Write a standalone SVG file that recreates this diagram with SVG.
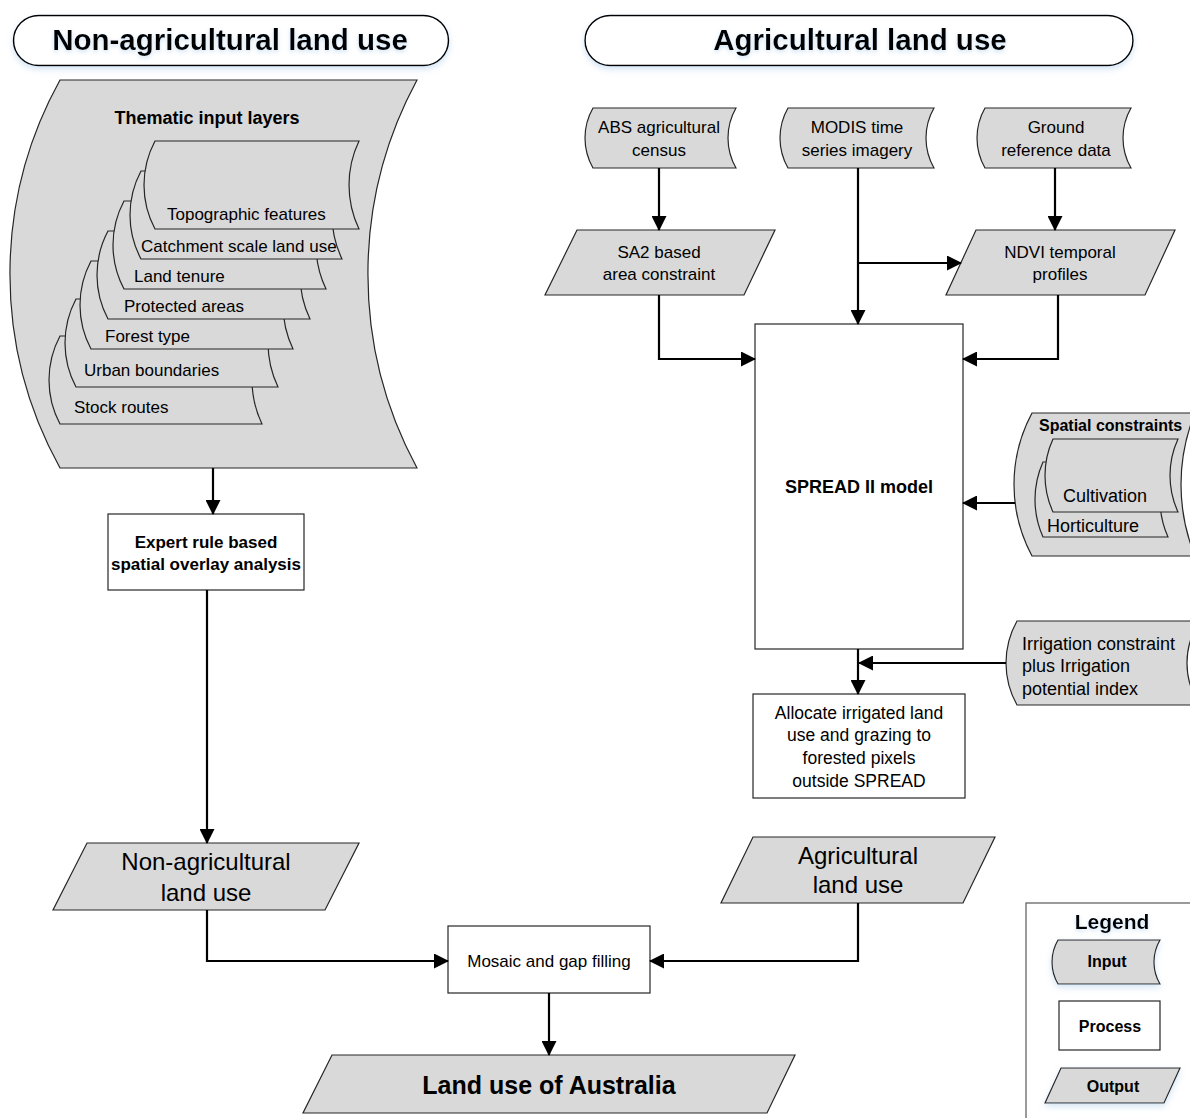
<svg xmlns="http://www.w3.org/2000/svg" width="1190" height="1118" viewBox="0 0 1190 1118">
<style>
text{font-family:"Liberation Sans",Arial,sans-serif;fill:#000}
.b{font-weight:bold}
.hdr{font-size:29.5px;font-weight:bold;text-anchor:middle}
.c{text-anchor:middle}
.t17{font-size:17px}
.t18{font-size:18px}
.t24{font-size:24px}
.in{fill:#d9d9d9;stroke:#262626;stroke-width:1.2}
.pr{fill:#fff;stroke:#262626;stroke-width:1.2}
.pill{fill:#fff;stroke:#000;stroke-width:1.5}
.cn{fill:none;stroke:#000;stroke-width:2.2;marker-end:url(#ah)}
.ln{fill:none;stroke:#000;stroke-width:2.2}
</style>
<defs>
<marker id="ah" markerUnits="userSpaceOnUse" markerWidth="15" markerHeight="15" refX="14" refY="7.5" orient="auto">
<path d="M0,0 L15,7.5 L0,15 Z" fill="#000"/>
</marker>
<filter id="soft" x="-10%" y="-30%" width="120%" height="180%">
<feGaussianBlur in="SourceAlpha" stdDeviation="3"/>
<feOffset dy="3" result="b"/>
<feFlood flood-color="#9dc3e6" flood-opacity="0.45"/>
<feComposite in2="b" operator="in"/>
<feMerge><feMergeNode/><feMergeNode in="SourceGraphic"/></feMerge>
</filter>
<filter id="tglow" x="-10%" y="-30%" width="120%" height="170%">
<feGaussianBlur in="SourceAlpha" stdDeviation="2"/>
<feOffset dy="2" result="b"/>
<feFlood flood-color="#9dc3e6" flood-opacity="0.5"/>
<feComposite in2="b" operator="in"/>
<feMerge><feMergeNode/><feMergeNode in="SourceGraphic"/></feMerge>
</filter>
</defs>

<g id="header-nonag">
<rect class="pill" x="13.5" y="15.5" width="435" height="50" rx="25" filter="url(#soft)"/>
<text class="hdr" x="230" y="50" filter="url(#tglow)">Non-agricultural land use</text>
</g>
<g id="header-ag">
<rect class="pill" x="585" y="15.5" width="548" height="50" rx="25" filter="url(#soft)"/>
<text class="hdr" x="860" y="50" filter="url(#tglow)">Agricultural land use</text>
</g>

<g id="thematic-input-layers">
<path class="in" d="M60,80 H417 A408,408 0 0 0 417,468 H60 A401,401 0 0 1 60,80 Z"/>
<text class="b c t18" x="207" y="124">Thematic input layers</text>
<path class="in" d="M60,336 H262 A102,102 0 0 0 262,424 H60 A93.5,93.5 0 0 1 60,336 Z"/>
<text class="t17" x="74" y="413">Stock routes</text>
<path class="in" d="M76,299 H278 A102,102 0 0 0 278,387 H76 A93.5,93.5 0 0 1 76,299 Z"/>
<text class="t17" x="84" y="376">Urban boundaries</text>
<path class="in" d="M91,261 H293 A102,102 0 0 0 293,349 H91 A93.5,93.5 0 0 1 91,261 Z"/>
<text class="t17" x="105" y="342">Forest type</text>
<path class="in" d="M108,231 H310 A102,102 0 0 0 310,319 H108 A93.5,93.5 0 0 1 108,231 Z"/>
<text class="t17" x="124" y="312">Protected areas</text>
<path class="in" d="M124,201 H326 A102,102 0 0 0 326,289 H124 A93.5,93.5 0 0 1 124,201 Z"/>
<text class="t17" x="134" y="282">Land tenure</text>
<path class="in" d="M141,171 H342 A102,102 0 0 0 342,259 H141 A93.5,93.5 0 0 1 141,171 Z"/>
<text class="t17" x="141" y="252">Catchment scale land use</text>
<path class="in" d="M155,141 H359 A102,102 0 0 0 359,229 H155 A93.5,93.5 0 0 1 155,141 Z"/>
<text class="t17" x="167" y="220">Topographic features</text>
</g>

<g id="expert-rule">
<rect class="pr" x="108" y="514" width="196" height="76"/>
<text class="b c t17" x="206" y="548">Expert rule based</text>
<text class="b c t17" x="206" y="570">spatial overlay analysis</text>
</g>

<g id="nonag-output">
<path class="in" d="M87,843 H359 L325,910 H53 Z"/>
<text class="c t24" x="206" y="870">Non-agricultural</text>
<text class="c t24" x="206" y="901">land use</text>
</g>

<g id="abs-census">
<path class="in" d="M593,108 H736 A60.25,60.25 0 0 0 736,168 H593 A60.25,60.25 0 0 1 593,108 Z"/>
<text class="c t17" x="659" y="133">ABS agricultural</text>
<text class="c t17" x="659" y="156">census</text>
</g>
<g id="modis">
<path class="in" d="M788,108 H934 A60.25,60.25 0 0 0 934,168 H788 A60.25,60.25 0 0 1 788,108 Z"/>
<text class="c t17" x="857" y="133">MODIS time</text>
<text class="c t17" x="857" y="156">series imagery</text>
</g>
<g id="ground-ref">
<path class="in" d="M985,108 H1131 A60.25,60.25 0 0 0 1131,168 H985 A60.25,60.25 0 0 1 985,108 Z"/>
<text class="c t17" x="1056" y="133">Ground</text>
<text class="c t17" x="1056" y="156">reference data</text>
</g>

<g id="sa2">
<path class="in" d="M577,230 H775 L744,295 H545 Z"/>
<text class="c t17" x="659" y="258">SA2 based</text>
<text class="c t17" x="659" y="280">area constraint</text>
</g>
<g id="ndvi">
<path class="in" d="M976,230 H1175 L1145,295 H946 Z"/>
<text class="c t17" x="1060" y="258">NDVI temporal</text>
<text class="c t17" x="1060" y="280">profiles</text>
</g>

<g id="spread">
<rect class="pr" x="755" y="324" width="208" height="325"/>
<text class="b c t18" x="859" y="493">SPREAD II model</text>
</g>

<g id="spatial-constraints">
<path class="in" d="M1032,413 H1195 A189.6,189.6 0 0 0 1195,556 H1032 A151,151 0 0 1 1032,413 Z"/>
<text class="b" x="1039" y="431" font-size="16px">Spatial constraints</text>
<path class="in" d="M1043,462 H1168 A91.9,91.9 0 0 0 1168,537 H1043 A91.9,91.9 0 0 1 1043,462 Z"/>
<text class="t18" x="1047" y="532">Horticulture</text>
<path class="in" d="M1053,439 H1178 A87.3,87.3 0 0 0 1178,512 H1053 A87.3,87.3 0 0 1 1053,439 Z"/>
<text class="t18" x="1063" y="502">Cultivation</text>
</g>

<g id="irrigation">
<path class="in" d="M1017,621 H1200 A74.3,74.3 0 0 0 1200,705 H1017 A85.7,85.7 0 0 1 1017,621 Z"/>
<text class="t18" x="1022" y="650">Irrigation constraint</text>
<text class="t18" x="1022" y="672">plus Irrigation</text>
<text class="t18" x="1022" y="695">potential index</text>
</g>

<g id="allocate">
<rect class="pr" x="753" y="694" width="212" height="104"/>
<text class="c" x="859" y="719" font-size="17.5px">Allocate irrigated land</text>
<text class="c" x="859" y="741" font-size="17.5px">use and grazing to</text>
<text class="c" x="859" y="764" font-size="17.5px">forested pixels</text>
<text class="c" x="859" y="787" font-size="17.5px">outside SPREAD</text>
</g>

<g id="ag-output">
<path class="in" d="M753,837 H995 L963,903 H721 Z"/>
<text class="c t24" x="858" y="864">Agricultural</text>
<text class="c t24" x="858" y="893">land use</text>
</g>

<g id="mosaic">
<rect class="pr" x="448" y="926" width="202" height="67"/>
<text class="c t17" x="549" y="967">Mosaic and gap filling</text>
</g>

<g id="land-use-australia">
<path class="in" d="M332,1055 H795 L767,1113 H303 Z"/>
<text class="b c" x="549" y="1094" font-size="25px">Land use of Australia</text>
</g>

<g id="legend">
<rect x="1026" y="903" width="200" height="260" fill="#fff" stroke="#595959" stroke-width="1.2"/>
<text class="b c" x="1112" y="929" font-size="21px" filter="url(#tglow)">Legend</text>
<path class="in" d="M1058,940 H1160 A43.3,43.3 0 0 0 1160,984 H1058 A43.3,43.3 0 0 1 1058,940 Z" filter="url(#soft)"/>
<text class="b c" x="1107" y="967" font-size="16px">Input</text>
<rect class="pr" x="1059" y="1001" width="101" height="49"/>
<text class="b c" x="1110" y="1032" font-size="16px">Process</text>
<path class="in" d="M1061,1068 H1180 L1164,1103 H1045 Z" filter="url(#soft)"/>
<text class="b c" x="1113" y="1092" font-size="16px">Output</text>
</g>

<g id="connectors">
<path class="cn" d="M213,468 V514"/>
<path class="cn" d="M207,590 V843"/>
<path class="cn" d="M207,910 V961 H448"/>
<path class="cn" d="M659,168 V230"/>
<path class="cn" d="M858,168 V324"/>
<path class="cn" d="M858,263 H961"/>
<path class="cn" d="M1055,168 V230"/>
<path class="cn" d="M659,295 V359 H755"/>
<path class="cn" d="M1058,295 V359 H963"/>
<path class="cn" d="M1015,503 H963"/>
<path class="cn" d="M858,649 V694"/>
<path class="cn" d="M1006,663 H859"/>
<path class="cn" d="M858,903 V961 H650"/>
<path class="cn" d="M549,993 V1055"/>
</g>
</svg>
